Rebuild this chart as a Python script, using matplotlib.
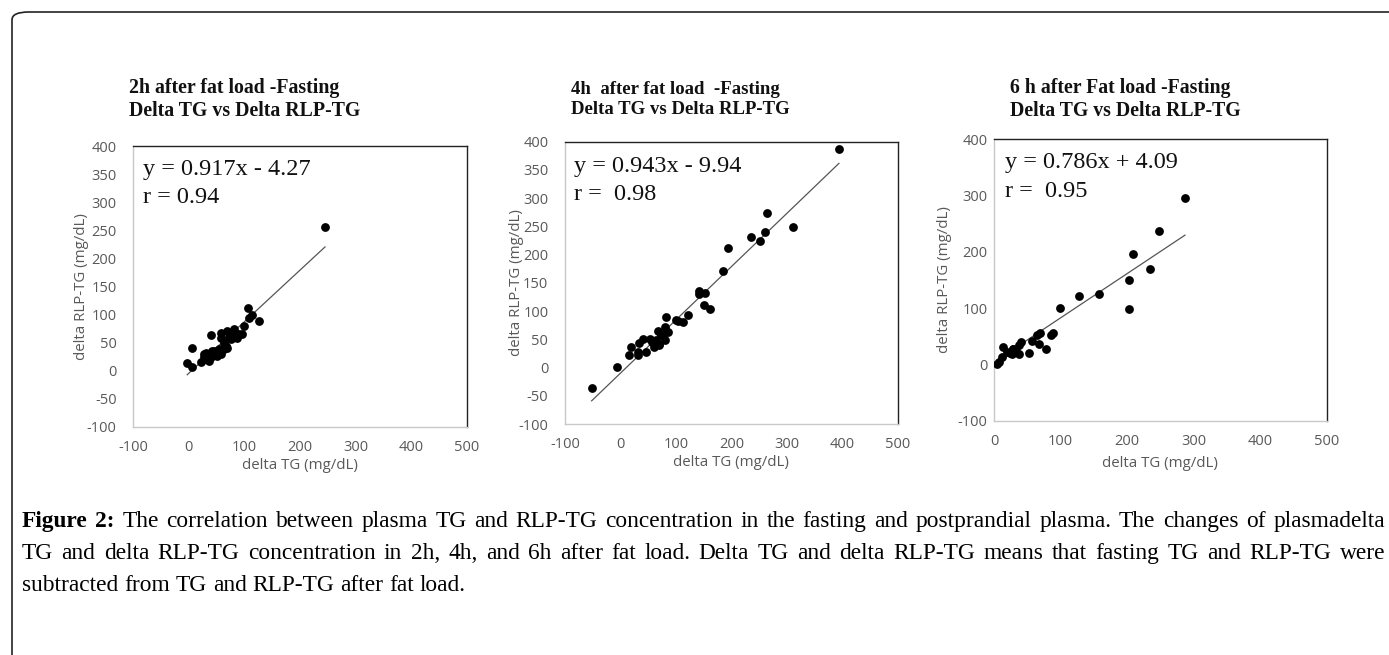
import matplotlib
matplotlib.use("Agg")
import matplotlib.pyplot as plt
from matplotlib.patches import FancyBboxPatch

plt.rcParams["axes.unicode_minus"] = False

# ---- data ----
x_2h = [245, 107, 114, 108, 126, 99, 81, 69, 57, 40, 6, -3, 6, 22, 27, 30, 39, 45, 54,
        63, 69, 75, 84, 90, 58, 51, 57, 36, 31, 87, 63, 53, 42, 28, 95, 80, 72, 66, 47, 35]
y_2h = [255, 112, 100, 94, 89, 80, 74, 71, 68, 63, 41, 13, 6, 15, 30, 32, 24, 36, 39,
        50, 41, 56, 62, 65, 58, 27, 30, 18, 21, 59, 38, 30, 36, 24, 66, 65, 60, 45, 33, 26]

x_4h = [394, -52, -7, 265, 311, 260, 251, 236, 194, 185, 142, 142, 153, 151, 162, 122,
        113, 100, 103, 82, 80, 85, 67, 73, 80, 64, 61, 69, 53, 40, 34, 19, 16, 31, 31, 46,
        76, 70, 57]
y_4h = [387, -36, 1, 273, 249, 240, 225, 231, 212, 171, 136, 130, 132, 110, 104, 93,
        81, 85, 82, 89, 72, 63, 65, 57, 49, 49, 36, 40, 50, 50, 43, 37, 23, 22, 28, 28,
        58, 42, 45]

x_6h = [287, 248, 209, 234, 203, 203, 158, 127, 99, 88, 85, 69, 64, 57, 67, 78, 52, 40,
        37, 29, 38, 14, 20, 27, 12, 7, 4, 29, 33, 24]
y_6h = [296, 237, 196, 170, 150, 99, 126, 121, 101, 56, 52, 55, 52, 41, 37, 27, 21, 40,
        34, 28, 19, 31, 22, 19, 13, 4, 0, 27, 24, 20]

slopes = [0.917, 0.943, 0.786]
intercepts = [-4.27, -9.94, 4.09]
eq_text = ["y = 0.917x - 4.27", "y = 0.943x - 9.94", "y = 0.786x + 4.09"]
r_text = ["r = 0.94", "r =  0.98", "r =  0.95"]
titles = ["2h after fat load -Fasting\nDelta TG vs Delta RLP-TG",
          "4h  after fat load  -Fasting\nDelta TG vs Delta RLP-TG",
          "6 h after Fat load -Fasting\nDelta TG vs Delta RLP-TG"]
title_sizes = [14.3, 13.5, 14.2]
x_limits = [(-100, 500), (-100, 500), (0, 500)]
x_ticks = [range(-100, 501, 100), range(-100, 501, 100), range(0, 501, 100)]
y_ticks = [range(-100, 401, 50), range(-100, 401, 50), range(-100, 401, 100)]

caption_lines = [
    "The correlation between plasma TG and RLP-TG concentration in the fasting and postprandial plasma. The changes of plasmadelta",
    "TG and delta RLP-TG concentration in 2h, 4h, and 6h after fat load. Delta TG and delta RLP-TG means that fasting TG and RLP-TG were",
    "subtracted from TG and RLP-TG after fat load.",
]

W, H = 1389, 655
fig = plt.figure(figsize=(W / 100, H / 100), dpi=100)
fig.patch.set_facecolor("white")


def fx(px):
    return px / W


def fy(py):
    return 1 - py / H


# outer rounded frame (only top and left edge visible)
frame = FancyBboxPatch((fx(12), fy(700)), fx(1450), fy(12) - fy(700),
                       boxstyle="round,pad=0,rounding_size=0.012",
                       transform=fig.transFigure, fill=False,
                       edgecolor="#222222", linewidth=1.2)
fig.patches.append(frame)

# axes rects in pixels: left, top, right, bottom
rects = [(133.3, 146, 466.7, 427), (565, 141.7, 897.7, 424), (994, 139.3, 1326.7, 420.7)]
title_pos = [(129, 116), (570.7, 113.5), (1010, 116)]
eq_pos = [(143.3, 175, 202.7), (574.3, 171.7, 200), (1005, 168.3, 196.7)]
ylab_x = [-0.132, -0.123, -0.125]
xlab_y = [-0.11, -0.11, -0.125]
ytick_pad = [12, 12, 4.5]
datasets = [(x_2h, y_2h), (x_4h, y_4h), (x_6h, y_6h)]

grey = "#595959"
for i in range(3):
    l, t, r, b = rects[i]
    ax = fig.add_axes([fx(l), fy(b), fx(r - l), fy(t) - fy(b)])
    xs, ys = datasets[i]
    ax.scatter(xs, ys, s=40, color="black", zorder=3, linewidths=0)
    x0, x1 = min(xs), max(xs)
    ax.plot([x0, x1], [slopes[i] * x0 + intercepts[i], slopes[i] * x1 + intercepts[i]],
            color="#555555", linewidth=0.9, zorder=2)
    ax.set_xlim(*x_limits[i])
    ax.set_ylim(-100, 400)
    ax.set_xticks(list(x_ticks[i]))
    ax.set_yticks(list(y_ticks[i]))
    ax.tick_params(length=0, labelsize=10.5, labelcolor=grey)
    ax.tick_params(axis="x", pad=9.5)
    ax.tick_params(axis="y", pad=ytick_pad[i])
    for lab in ax.get_xticklabels() + ax.get_yticklabels():
        lab.set_fontfamily("Open Sans")
    ax.spines["left"].set_color("#c8c8c8")
    ax.spines["bottom"].set_color("#c8c8c8")
    ax.spines["top"].set_color("#222222")
    ax.spines["right"].set_color("#222222")
    for s in ax.spines.values():
        s.set_linewidth(1.0)
    ax.set_xlabel("delta TG (mg/dL)", fontfamily="Open Sans", fontsize=10.8, color=grey)
    ax.set_ylabel("delta RLP-TG (mg/dL)", fontfamily="Open Sans", fontsize=10.8, color=grey)
    ax.xaxis.set_label_coords(0.5, xlab_y[i])
    ax.yaxis.set_label_coords(ylab_x[i], 0.5)

    tx, ty = title_pos[i]
    fig.text(fx(tx), fy(ty), titles[i], fontfamily="Liberation Serif",
             fontweight="bold", fontsize=title_sizes[i], ha="left", va="baseline",
             linespacing=1.2, color="#111111")
    ex, ey1, ey2 = eq_pos[i]
    fig.text(fx(ex), fy(ey1), eq_text[i], fontfamily="Liberation Serif",
             fontsize=17.5, ha="left", va="baseline", color="#111111")
    fig.text(fx(ex), fy(ey2), r_text[i], fontfamily="Liberation Serif",
             fontsize=17.5, ha="left", va="baseline", color="#111111")

# caption, lines 1 and 2 justified between x=22 and x=1385
cap_size = 16.8
renderer = fig.canvas.get_renderer()


def put_line(words, y_px, justify):
    items = []
    for w, bold in words:
        t = fig.text(0, fy(y_px), w, fontfamily="Liberation Serif", fontsize=cap_size,
                     fontweight="bold" if bold else "normal", ha="left", va="baseline")
        items.append(t)
    widths = [t.get_window_extent(renderer).width for t in items]
    probe = fig.text(0, 0, "a a", fontfamily="Liberation Serif", fontsize=cap_size)
    sw = probe.get_window_extent(renderer).width
    probe.set_text("aa")
    sw -= probe.get_window_extent(renderer).width
    probe.remove()
    if justify:
        gap = (1385 - 22 - sum(widths)) / (len(items) - 1)
    else:
        gap = sw
    x = 22
    for t, w in zip(items, widths):
        t.set_x(fx(x))
        x += w + gap


line1 = [("Figure", True), ("2:", True)] + [(w, False) for w in caption_lines[0].split()]
line2 = [(w, False) for w in caption_lines[1].split()]
line3 = [(w, False) for w in caption_lines[2].split()]
put_line(line1, 527, True)
put_line(line2, 559, True)
put_line(line3, 591, False)

fig.savefig("out.png", dpi=100)
